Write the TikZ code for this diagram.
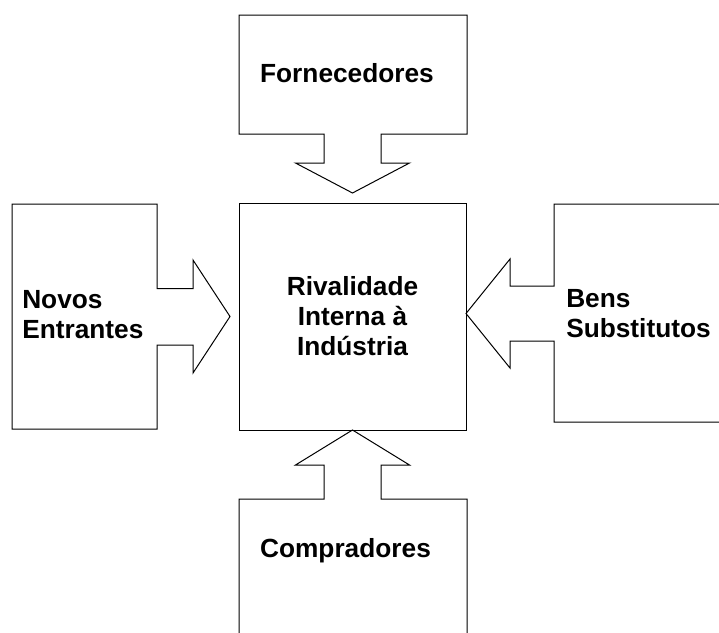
\documentclass[tikz,border=0pt]{standalone}
\usepackage{fontspec}
\setmainfont{Liberation Sans}
\usetikzlibrary{arrows}

\begin{document}
\begin{tikzpicture}[x=0.75pt,y=0.75pt,yscale=-1,xscale=1]
\tikzset{forcebox/.style={draw, line width=0.75, fill=white},
         forcelabel/.style={inner sep=0pt, font=\bfseries\fontsize{19.7}{22.5}\selectfont}}
\useasboundingbox (0,0) rectangle (719,633);
\clip (0,0) rectangle (719,633);

%Shape: Fornecedores
\draw [forcebox] (239,15) -- (467,15) -- (467,134) -- (381,134) -- (381,163) -- (409.5,163) -- (352.5,193) -- (295.5,163) -- (324,163) -- (324,134) -- (239,134) -- cycle ;
%Shape: Novos Entrantes
\draw [forcebox] (12,204) -- (157,204) -- (157,288.5) -- (193,288.5) -- (193,260) -- (230,316.5) -- (193,373) -- (193,345) -- (157,345) -- (157,429) -- (12,429) -- cycle ;
%Shape: Bens Substitutos
\draw [forcebox] (725,204) -- (554,204) -- (554,286) -- (510,286) -- (510,259) -- (466,313.5) -- (510,368) -- (510,341) -- (554,341) -- (554,422) -- (725,422) ;
%Shape: Compradores
\draw [forcebox] (239,640) -- (239,499) -- (324,499) -- (324,465) -- (295.5,465) -- (352.5,430) -- (409.5,465) -- (381,465) -- (381,499) -- (467,499) -- (467,640) ;

% Central Box
\node (rival) [draw, line width=0.75, minimum width=170.25pt, minimum height=170.25pt, inner sep=0pt, align=center, forcelabel] at (352.5,316.5) {Rivalidade\\Interna à\\Indústria};
% Text Node
\node (fornec) [anchor=base, forcelabel] at (347,82) {Fornecedores};
% Text Node
\node (novos) [anchor=west, align=left, forcelabel] at (22,315) {Novos\\Entrantes};
% Text Node
\node (bens) [anchor=west, align=left, forcelabel] at (566,314) {Bens\\Substitutos};
% Text Node
\node (compr) [anchor=base, forcelabel] at (345.5,557) {Compradores};

\end{tikzpicture}
\end{document}
